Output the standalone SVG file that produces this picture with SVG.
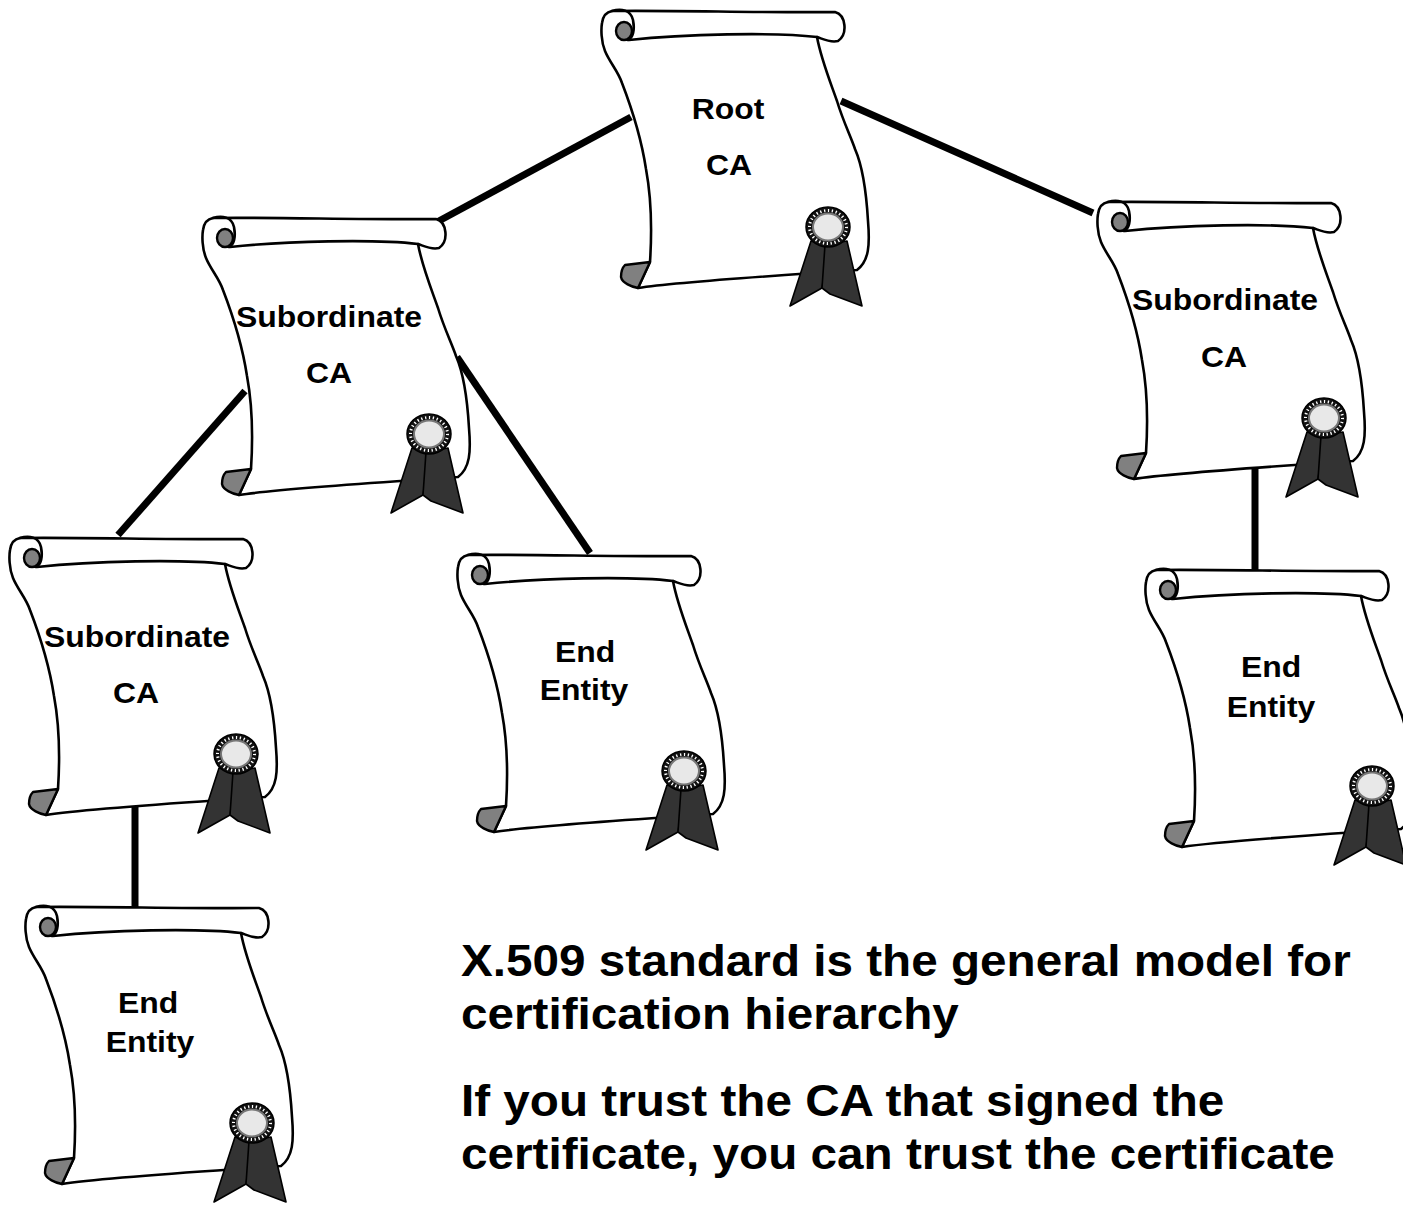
<svg xmlns="http://www.w3.org/2000/svg" xmlns:xlink="http://www.w3.org/1999/xlink" width="1403" height="1205" viewBox="0 0 1403 1205">
  <style>
    .paper { fill: #ffffff; stroke: #000000; stroke-width: 2.6; stroke-linejoin: round; stroke-linecap: round; }
    .line { fill: none; stroke: #000000; stroke-width: 2.6; stroke-linecap: round; }
    .grey { fill: #808080; stroke: #000000; stroke-width: 2.4; stroke-linejoin: round; }
    .ribbon { fill: #333333; stroke: #000000; stroke-width: 1.6; stroke-linejoin: round; }
    .link { stroke: #000000; stroke-width: 7; fill: none; }
    .label { font-family: "Liberation Sans", Arial, sans-serif; font-weight: bold; font-size: 29px; fill: #000000; text-anchor: middle; }
    .note { font-family: "Liberation Sans", Arial, sans-serif; font-weight: bold; font-size: 44px; fill: #000000; }
  </style>
  <defs>
    <!-- certificate scroll, origin at the centre of the top roll's end cap -->
    <g id="scroll">
      <path class="paper" d="M -12,-20 C 40,-21 150,-18 211,-19 C 222,-16 224,3 214,10 C 206,12 199,8 193,6 C 197,28 206,50 213,70 C 219,90 227,106 231,118 C 238,134 242,155 244,190 C 246,214 245,230 233,239 C 180,243 60,250 14,257 L 26,231 C 28,200 27,165 22,138 C 17,105 8,78 -2,52 C -6,40 -14,32 -19,20 C -23,10 -23,-2 -22,-8 C -21,-15 -18,-19 -12,-20 Z"/>
      <path class="line" d="M 193,6 C 150,1 60,3 5,9"/>
      <path class="line" d="M -12,-20 C -3,-23 7,-21 9,-11 C 11,-1 9,7 4,9"/>
      <ellipse class="grey" cx="0" cy="0" rx="8" ry="9"/>
      <path class="grey" d="M 1,234 L 26,231 L 14,257 C 8,256 -2,252 -3,246 C -3,240 -1,236 1,234 Z"/>
      <!-- seal with ribbons -->
      <g transform="translate(204,196)">
        <path class="ribbon" d="M -17,14 L 1,19 L -6,61 L -38,79 Z"/>
        <path class="ribbon" d="M -3,18 L 19,14 L 34,79 L 2,67 L -6,61 Z"/>
        <ellipse cx="0" cy="0" rx="22" ry="20" fill="#111111" stroke="#000000" stroke-width="1.5"/>
        <ellipse cx="0" cy="0" rx="18.5" ry="16.5" fill="none" stroke="#ffffff" stroke-width="3" stroke-dasharray="1.3 2.6"/>
        <ellipse cx="0" cy="0" rx="15" ry="13.5" fill="#e8e8e8" stroke="#777777" stroke-width="2"/>
      </g>
    </g>
  </defs>

  <rect width="1403" height="1205" fill="#ffffff"/>

  <g id="connectors">
    <line class="link" x1="631" y1="117" x2="437" y2="222"/>
    <line class="link" x1="841" y1="101" x2="1093" y2="213"/>
    <line class="link" x1="245" y1="391" x2="118" y2="535"/>
    <line class="link" x1="457" y1="357" x2="590" y2="553"/>
    <line class="link" x1="135" y1="800" x2="135" y2="908"/>
    <line class="link" x1="1255" y1="460" x2="1255" y2="572"/>
  </g>

  <g id="root-ca">
    <use xlink:href="#scroll" href="#scroll" transform="translate(624,31)"/>
    <text class="label" transform="translate(728,119) scale(1.1,1)">Root</text>
    <text class="label" transform="translate(729,175) scale(1.1,1)">CA</text>
  </g>

  <g id="sub-ca-left">
    <use xlink:href="#scroll" href="#scroll" transform="translate(225,238)"/>
    <text class="label" transform="translate(329,327) scale(1.1,1)">Subordinate</text>
    <text class="label" transform="translate(329,383) scale(1.1,1)">CA</text>
  </g>

  <g id="sub-ca-right">
    <use xlink:href="#scroll" href="#scroll" transform="translate(1120,222)"/>
    <text class="label" transform="translate(1225,310) scale(1.1,1)">Subordinate</text>
    <text class="label" transform="translate(1224,367) scale(1.1,1)">CA</text>
  </g>

  <g id="sub-sub-ca">
    <use xlink:href="#scroll" href="#scroll" transform="translate(32,558)"/>
    <text class="label" transform="translate(137,647) scale(1.1,1)">Subordinate</text>
    <text class="label" transform="translate(136,703) scale(1.1,1)">CA</text>
  </g>

  <g id="end-entity-middle">
    <use xlink:href="#scroll" href="#scroll" transform="translate(480,575)"/>
    <text class="label" transform="translate(585,662) scale(1.1,1)">End</text>
    <text class="label" transform="translate(584,700) scale(1.1,1)">Entity</text>
  </g>

  <g id="end-entity-right">
    <use xlink:href="#scroll" href="#scroll" transform="translate(1168,590)"/>
    <text class="label" transform="translate(1271,677) scale(1.1,1)">End</text>
    <text class="label" transform="translate(1271,717) scale(1.1,1)">Entity</text>
  </g>

  <g id="end-entity-bottom">
    <use xlink:href="#scroll" href="#scroll" transform="translate(48,927)"/>
    <text class="label" transform="translate(148,1013) scale(1.1,1)">End</text>
    <text class="label" transform="translate(150,1052) scale(1.1,1)">Entity</text>
  </g>

  <g id="notes">
    <text class="note" transform="translate(461,976) scale(1.083,1)">X.509 standard is the general model for</text>
    <text class="note" transform="translate(461,1029) scale(1.083,1)">certification hierarchy</text>
    <text class="note" transform="translate(461,1116) scale(1.083,1)">If you trust the CA that signed the</text>
    <text class="note" transform="translate(461,1169) scale(1.083,1)">certificate, you can trust the certificate</text>
  </g>
</svg>
